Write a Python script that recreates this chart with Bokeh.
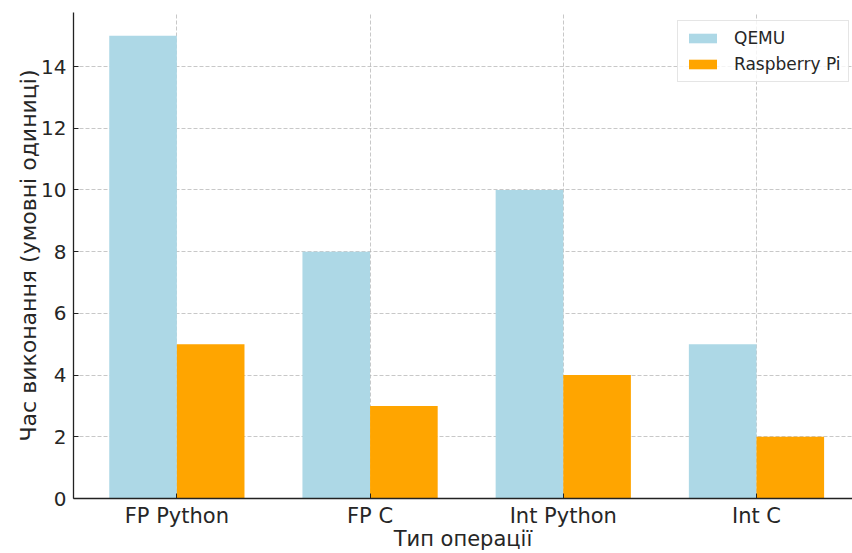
from bokeh.plotting import figure
from bokeh.models import Range1d, FixedTicker, ColumnDataSource, Legend, LegendItem
from bokeh.transform import dodge
from bokeh.embed import file_html
from bokeh.resources import INLINE

categories = ["FP Python", "FP C", "Int Python", "Int C"]
qemu = [15, 8, 10, 5]
raspberry = [5, 3, 4, 2]
y_ticks = [0, 2, 4, 6, 8, 10, 12, 14]

FONT = "DejaVu Sans"

xs = list(range(len(categories)))
src = ColumnDataSource(dict(x=xs, qemu=qemu, rpi=raspberry))

p = figure(width=852, height=553, output_backend="svg", toolbar_location=None,
           x_range=Range1d(-0.535, 3.497), y_range=Range1d(0, 15.75),
           min_border_left=73, min_border_right=0, min_border_top=12, min_border_bottom=55)
p.outline_line_color = None
p.background_fill_color = "white"
p.border_fill_color = "white"

r1 = p.vbar(x=dodge("x", -0.175, range=p.x_range), top="qemu", width=0.35, source=src,
            fill_color="#ADD8E6", line_color=None)
r2 = p.vbar(x=dodge("x", 0.175, range=p.x_range), top="rpi", width=0.35, source=src,
            fill_color="#FFA500", line_color=None)

p.xaxis.ticker = FixedTicker(ticks=xs)
p.xaxis.major_label_overrides = {i: c for i, c in enumerate(categories)}
p.yaxis.ticker = FixedTicker(ticks=y_ticks)

for ax in (p.xaxis[0], p.yaxis[0]):
    ax.axis_line_color = "#222222"
    ax.axis_line_width = 1.3
    ax.major_tick_line_color = "#222222"
    ax.major_tick_in = 5
    ax.major_tick_out = 0
    ax.minor_tick_line_color = None
    ax.major_label_text_font = FONT
    ax.major_label_text_color = "#262626"
    ax.axis_label_text_font = FONT
    ax.axis_label_text_font_style = "normal"
    ax.axis_label_text_color = "#262626"

p.xaxis.major_label_text_font_size = "21px"
p.yaxis.major_label_text_font_size = "20px"
p.xaxis.axis_label_text_font_size = "21px"
p.yaxis.axis_label_text_font_size = "22px"

p.xaxis.axis_label = "Тип операції"
p.yaxis.axis_label = "Час виконання (умовні одиниці)"
p.xaxis.major_label_standoff = 5
p.yaxis.major_label_standoff = 7
p.xaxis.axis_label_standoff = -4
p.yaxis.axis_label_standoff = -3

for g in (p.xgrid[0], p.ygrid[0]):
    g.grid_line_color = "#b0b0b0"
    g.grid_line_alpha = 0.7
    g.grid_line_dash = "4 2"
    g.grid_line_width = 1
p.xgrid.ticker = FixedTicker(ticks=xs)
p.ygrid.ticker = FixedTicker(ticks=y_ticks)

legend = Legend(items=[LegendItem(label="QEMU", renderers=[r1]),
                       LegendItem(label="Raspberry Pi", renderers=[r2])],
                location=(604, 416))
legend.margin = 0
legend.padding = 7
legend.spacing = 6
legend.glyph_width = 35
legend.glyph_height = 12
legend.label_standoff = 14
legend.label_text_font = FONT
legend.label_text_font_size = "17px"
legend.label_text_color = "#262626"
legend.border_line_color = "#cccccc"
legend.border_line_width = 1
legend.background_fill_color = "white"
legend.background_fill_alpha = 0.8
p.add_layout(legend, "center")

open("out.html", "w").write(file_html(p, INLINE))
